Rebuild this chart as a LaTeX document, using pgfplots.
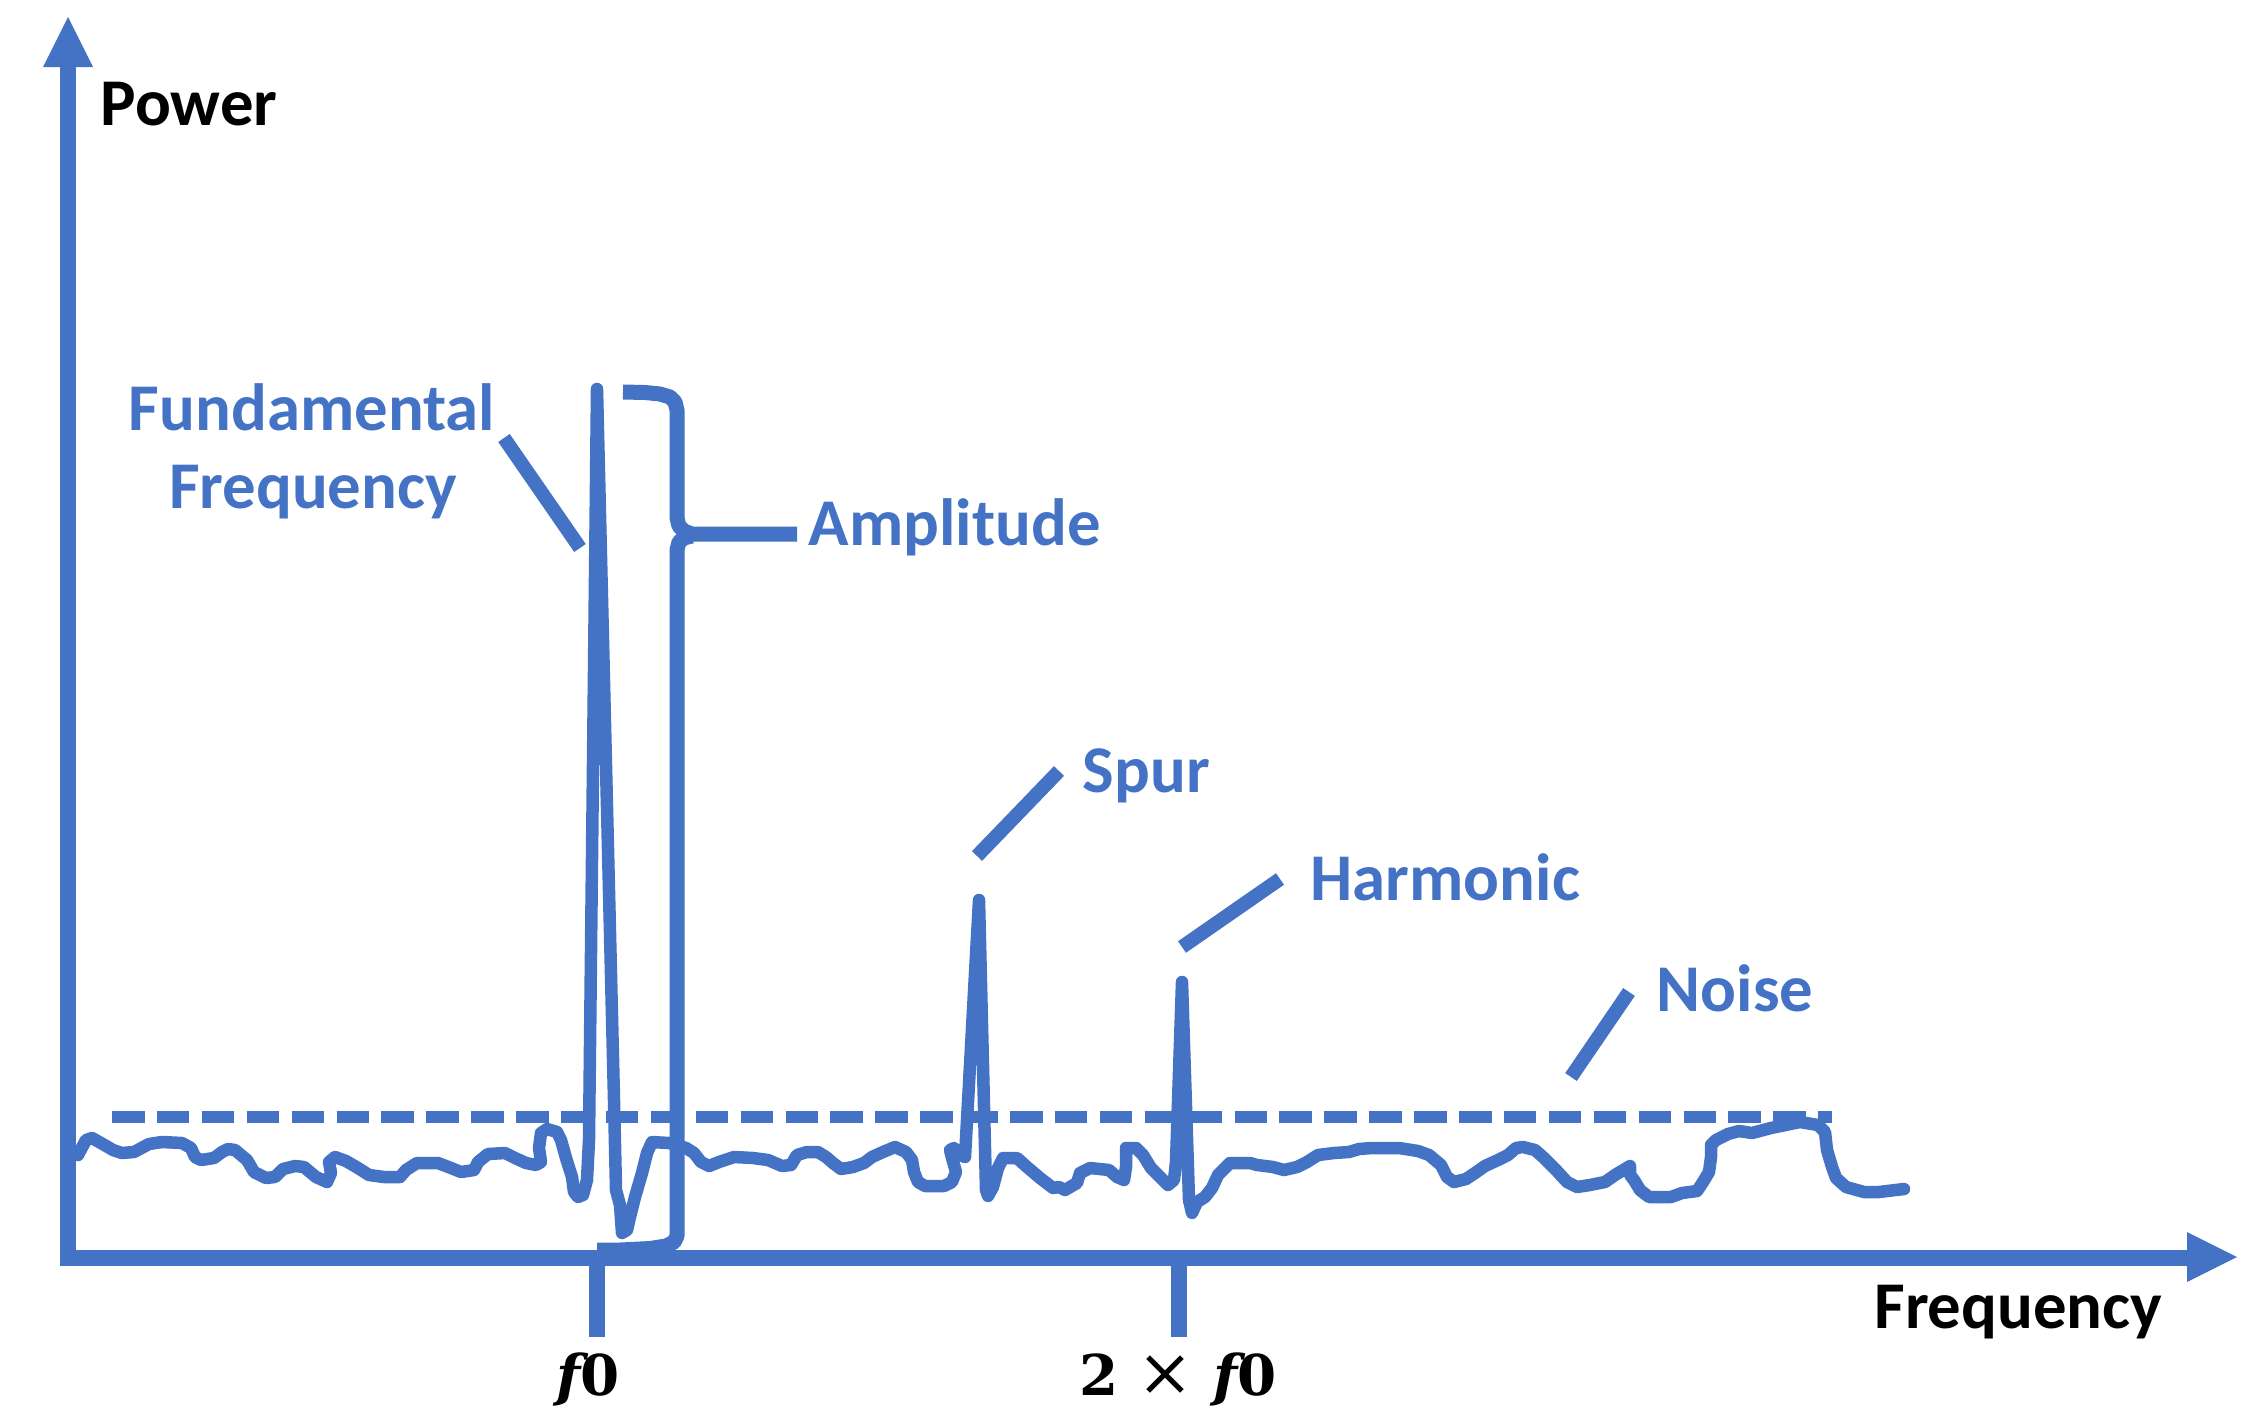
\documentclass[border=0pt]{standalone}
\usepackage{fontspec}
\setmainfont{Carlito}
\newfontfamily\dvs{DejaVu Serif}
\usepackage{pgfplots}
\pgfplotsset{compat=1.18}
\definecolor{blu}{HTML}{4472C4}
\newcommand\lbl{\fontsize{19}{22}\selectfont\bfseries}
\newcommand\mlbl{\dvs\fontsize{16}{20}\selectfont\bfseries}
\begin{document}
\begin{tikzpicture}
\begin{axis}[hide axis, scale only axis, width=22.6cm, height=14.2cm,
  xmin=0, xmax=2260, ymin=0, ymax=1420, y dir=reverse, clip=false, no markers]
\addplot[draw=none, forget plot] coordinates {(0,0) (2260,1420)};
\addplot[blu, line width=1.15mm, dash pattern=on 3.25mm off 1.24mm] coordinates {(112,1117) (1832,1117)};
\addplot[blu, line width=1.25mm, line join=round, line cap=round] coordinates {
(78,1155)(86,1140)(92,1138)(101,1143)(113,1150)(122,1153)(134,1152)(149,1144)(162,1142)(182,1143)
(191,1148)(195,1157)(201,1160)(214,1158)(222,1152)(228,1149)(235,1150)(247,1160)(254,1172)(266,1178)
(275,1177)(283,1169)(295,1166)(304,1167)(316,1177)(327,1182)(331,1173)(329,1162)(335,1157)(346,1161)
(358,1168)(369,1175)(384,1177)(400,1177)(406,1170)(417,1163)(438,1163)(451,1168)(461,1172)(474,1170)
(478,1162)(488,1154)(505,1153)(515,1158)(526,1163)(536,1165)(541,1162)(539,1148)(541,1133)(547,1129)
(557,1132)(561,1140)(566,1158)(572,1177)(574,1192)(578,1197)(583,1195)(587,1180)(589,1140)(597,389)
(614,1100)(616,1190)(620,1205)(622,1233)(627,1230)(630,1217)(635,1197)(642,1173)(647,1153)(652,1142)
(669,1143)(686,1148)(694,1153)(701,1162)(709,1166)(719,1162)(734,1157)(753,1158)(768,1160)(782,1166)
(791,1165)(797,1155)(807,1152)(818,1152)(826,1157)(833,1163)(841,1169)(853,1167)(864,1163)(872,1157)
(883,1152)(895,1147)(906,1152)(912,1160)(914,1172)(918,1182)(925,1186)(944,1186)(952,1182)(956,1172)
(952,1158)(950,1150)(954,1148)(960,1155)(965,1157)(979,900)(986,1190)(988,1196)(993,1187)(998,1168)
(1003,1158)(1017,1158)(1027,1167)(1040,1178)(1053,1188)(1059,1187)(1065,1190)(1077,1183)(1080,1173)(1090,1168)
(1109,1170)(1117,1177)(1124,1180)(1126,1167)(1126,1148)(1136,1148)(1143,1155)(1151,1168)(1163,1180)(1168,1185)
(1174,1180)(1176,1162)(1182,982)(1189,1200)(1192,1213)(1197,1202)(1205,1197)(1212,1188)(1218,1175)(1223,1170)
(1230,1163)(1250,1163)(1257,1165)(1273,1167)(1284,1170)(1297,1167)(1307,1162)(1318,1155)(1334,1153)(1349,1152)
(1359,1149)(1372,1148)(1399,1148)(1418,1151)(1429,1155)(1441,1165)(1447,1177)(1454,1182)(1466,1179)(1475,1173)
(1485,1166)(1498,1160)(1508,1155)(1516,1148)(1523,1147)(1535,1150)(1544,1158)(1556,1170)(1567,1182)(1577,1187)
(1590,1185)(1605,1182)(1615,1175)(1630,1166)(1630,1175)(1634,1180)(1640,1190)(1649,1197)(1671,1197)(1682,1193)
(1697,1191)(1703,1182)(1709,1172)(1711,1157)(1711,1145)(1716,1140)(1728,1134)(1739,1131)(1752,1133)(1771,1128)
(1800,1122)(1818,1125)(1825,1132)(1827,1150)(1832,1167)(1836,1178)(1846,1187)(1864,1192)(1879,1192)(1904,1189)};
\addplot[blu, line width=1.5mm, line join=round] coordinates {
(623,392)(645,392.5)(660,394)(670,397)(675,402)(677,410)(677,518)(679,526)(684,531)(692,534)(797,534)};
\addplot[blu, line width=1.5mm, line join=round] coordinates {
(692,536)(684,538)(679,542)(677,550)(677,1236)(674,1242)(666,1246)(650,1248.5)(620,1250)(597,1250)};
\addplot[blu, line width=1.4mm] coordinates {(504,438) (580,548)};
\addplot[blu, line width=1.4mm] coordinates {(1059,771) (977,856)};
\addplot[blu, line width=1.4mm] coordinates {(1280,879) (1182,947)};
\addplot[blu, line width=1.4mm] coordinates {(1629,992) (1571,1077)};
\addplot[blu, line width=1.6mm] coordinates {(68,1266) (68,60)};
\addplot[blu, line width=1.6mm] coordinates {(60,1258) (2190,1258)};
\addplot[fill=blu, draw=none] coordinates {(43,67) (68,17) (93,67) (43,67)};
\addplot[fill=blu, draw=none] coordinates {(2187,1232) (2237,1257) (2187,1282) (2187,1232)};
\addplot[blu, line width=1.6mm] coordinates {(597,1258) (597,1337)};
\addplot[blu, line width=1.6mm] coordinates {(1179,1258) (1179,1337)};
\node[anchor=base west, inner sep=0pt] at (axis cs:100,125) {\lbl Power};
\node[anchor=base east, inner sep=0pt] at (axis cs:2163,1328) {\lbl Frequency};
\node[anchor=base, inner sep=0pt] at (axis cs:588,1395) {\mlbl\itshape f\upshape 0};
\node[anchor=base, inner sep=0pt] at (axis cs:1178,1395) {\mlbl 2 {\mdseries\fontsize{19}{20}\selectfont ×} \itshape f\upshape 0};
\node[anchor=base, inner sep=0pt, text=blu] at (axis cs:312,430) {\lbl Fundamental};
\node[anchor=base, inner sep=0pt, text=blu] at (axis cs:313,508) {\lbl Frequency};
\node[anchor=base west, inner sep=0pt, text=blu] at (axis cs:808,545) {\lbl Amplitude};
\node[anchor=base west, inner sep=0pt, text=blu] at (axis cs:1082,792) {\lbl Spur};
\node[anchor=base west, inner sep=0pt, text=blu] at (axis cs:1310,900) {\lbl Harmonic};
\node[anchor=base west, inner sep=0pt, text=blu] at (axis cs:1656,1011) {\lbl Noise};
\end{axis}
\end{tikzpicture}
\end{document}
